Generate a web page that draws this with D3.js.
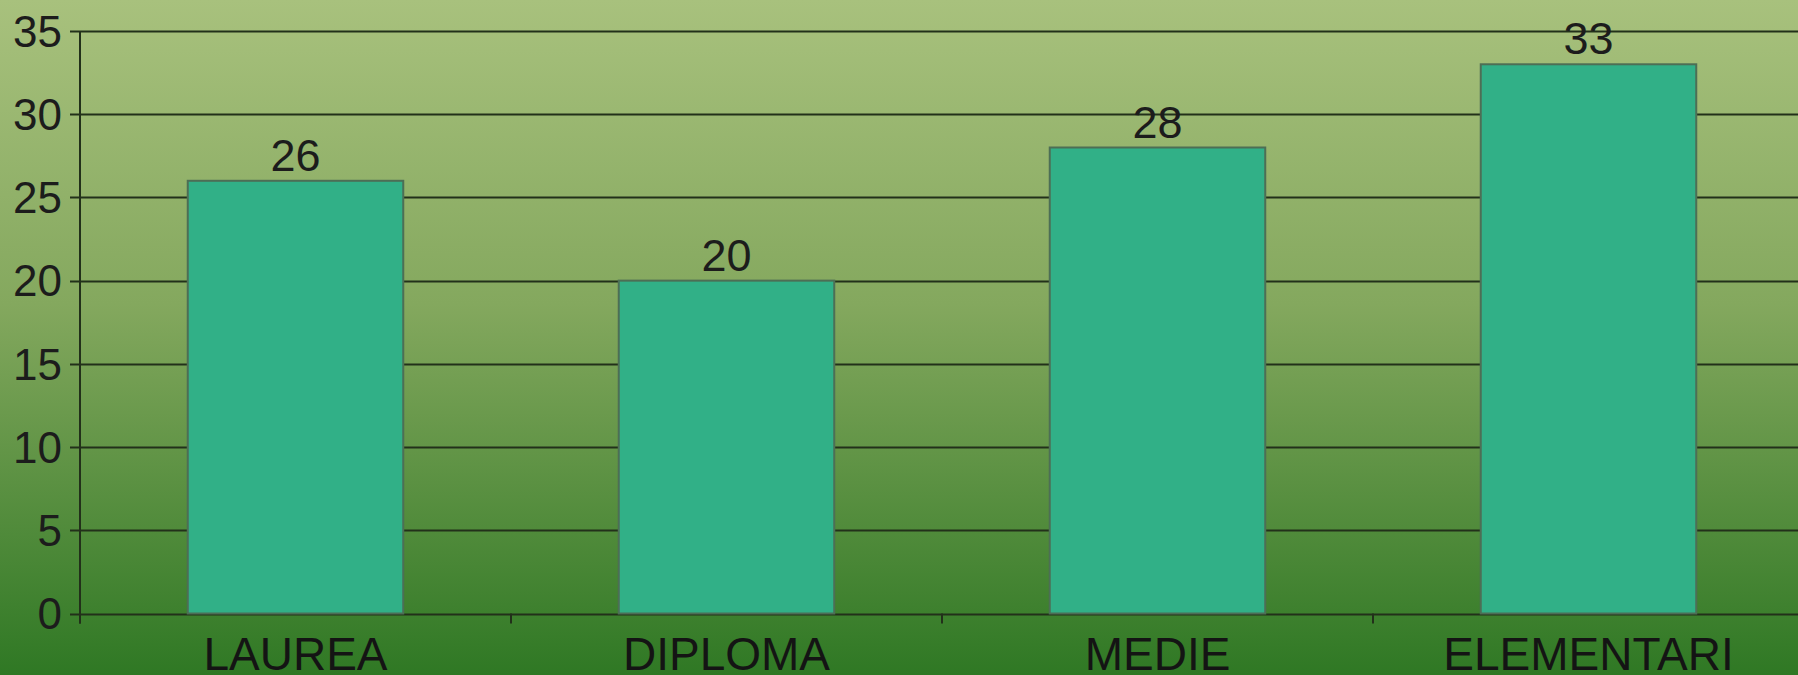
<!DOCTYPE html>
<html>
<head>
<meta charset="utf-8">
<script src="https://cdn.jsdelivr.net/npm/d3@7"></script>
<style>
  html, body { margin: 0; padding: 0; overflow: hidden; }
  svg { display: block; }
</style>
</head>
<body>
<div id="chart"></div>
<script>
// data
var categories = ["LAUREA", "DIPLOMA", "MEDIE", "ELEMENTARI"];
var values = [26, 20, 28, 33];
var yTicks = [0, 5, 10, 15, 20, 25, 30, 35];

var w = 1798,
    h = 675,
    plotLeft = 80,
    plotTop = 31,
    zeroY = 613.5,
    plotRight = plotLeft + 4 * 431;

var svg = d3.select("#chart").append("svg")
    .attr("width", w)
    .attr("height", h);

var grad = svg.append("defs").append("linearGradient")
    .attr("id", "bg")
    .attr("x1", 0).attr("y1", 0).attr("x2", 0).attr("y2", 1);
grad.append("stop").attr("offset", "0%").attr("stop-color", "#a8c17d");
grad.append("stop").attr("offset", "45%").attr("stop-color", "#84a85e");
grad.append("stop").attr("offset", "100%").attr("stop-color", "#2f7824");

svg.append("rect")
    .attr("width", w)
    .attr("height", h)
    .attr("fill", "url(#bg)");

var x = d3.scaleBand()
    .domain(categories)
    .range([plotLeft, plotRight])
    .paddingInner(0.5)
    .paddingOuter(0.25);

var y = d3.scaleLinear()
    .domain([0, 35])
    .range([zeroY, plotTop]);

var lineColor = "#22301a";

// gridlines
svg.selectAll("line.grid")
    .data(yTicks)
    .enter().append("line")
    .attr("class", "grid")
    .attr("x1", plotLeft - 10)
    .attr("x2", w)
    .attr("y1", function(d) { return Math.round(y(d)) + 0.5; })
    .attr("y2", function(d) { return Math.round(y(d)) + 0.5; })
    .style("stroke", lineColor)
    .style("stroke-width", 2);

// y axis line
svg.append("line")
    .attr("x1", plotLeft).attr("x2", plotLeft)
    .attr("y1", y(35)).attr("y2", zeroY + 10)
    .style("stroke", lineColor)
    .style("stroke-width", 2);

// y labels
svg.selectAll("text.ylab")
    .data(yTicks)
    .enter().append("text")
    .attr("class", "ylab")
    .attr("x", 62)
    .attr("y", function(d) { return y(d); })
    .attr("dy", "0.36em")
    .attr("text-anchor", "end")
    .style("font-family", "Liberation Sans, Arial, sans-serif")
    .style("font-size", "44px")
    .style("fill", "#1c1c1c")
    .text(function(d) { return d; });

// x ticks at band edges
var step = x.step();
var edges = d3.range(categories.length + 1).map(function(i) { return plotLeft + i * step; });
svg.selectAll("line.xtick")
    .data(edges)
    .enter().append("line")
    .attr("class", "xtick")
    .attr("x1", function(d) { return d; })
    .attr("x2", function(d) { return d; })
    .attr("y1", zeroY)
    .attr("y2", zeroY + 10)
    .style("stroke", lineColor)
    .style("stroke-width", 2);

// bars
svg.selectAll("rect.bar")
    .data(values)
    .enter().append("rect")
    .attr("class", "bar")
    .attr("x", function(d, i) { return x(categories[i]); })
    .attr("y", function(d) { return y(d); })
    .attr("width", x.bandwidth())
    .attr("height", function(d) { return zeroY - y(d); })
    .style("fill", "#31b087")
    .style("stroke", "#4d6e55")
    .style("stroke-width", 2);

// value labels
svg.selectAll("text.val")
    .data(values)
    .enter().append("text")
    .attr("class", "val")
    .attr("x", function(d, i) { return x(categories[i]) + x.bandwidth() / 2; })
    .attr("y", function(d) { return y(d) - 10; })
    .attr("text-anchor", "middle")
    .style("font-family", "Liberation Sans, Arial, sans-serif")
    .style("font-size", "45px")
    .style("fill", "#1c1c1c")
    .text(function(d) { return d; });

// category labels
svg.selectAll("text.cat")
    .data(categories)
    .enter().append("text")
    .attr("class", "cat")
    .attr("x", function(d) { return x(d) + x.bandwidth() / 2; })
    .attr("y", 670)
    .attr("text-anchor", "middle")
    .style("font-family", "Liberation Sans, Arial, sans-serif")
    .style("font-size", "46px")
    .style("fill", "#141414")
    .text(function(d) { return d; });
</script>
</body>
</html>
